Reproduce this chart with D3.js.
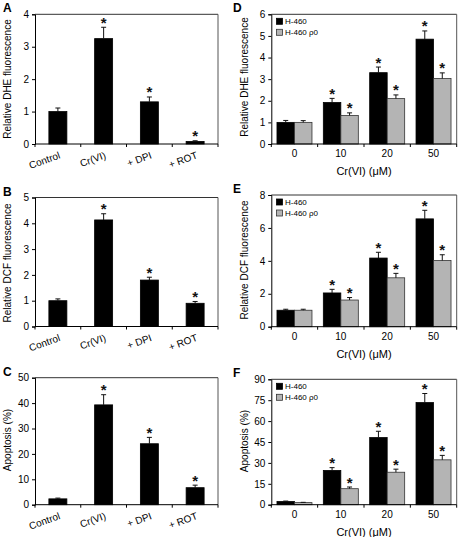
<!DOCTYPE html>
<html><head><meta charset="utf-8">
<script src="https://cdn.jsdelivr.net/npm/d3@7"></script>
<style>
body{margin:0;background:#fff;}
svg{display:block;font-family:"Liberation Sans",Arial,sans-serif;}
</style></head><body>
<svg id="c" width="459" height="537"></svg>
<script>
// ---- data ----
const treatCats = ["Control", "Cr(VI)", "+ DPI", "+ ROT"];
const doseCats = ["0", "10", "20", "50"];
const seriesNames = ["H-460", "H-460 ρ0"];

const dheTreat = [1.0, 3.25, 1.3, 0.08];
const dheTreatErr = [0.11, 0.35, 0.15, 0.02];
const dcfTreat = [1.0, 4.13, 1.8, 0.9];
const dcfTreatErr = [0.07, 0.24, 0.11, 0.07];
const apoTreat = [2.3, 39.3, 24.0, 6.7];
const apoTreatErr = [0.3, 4.0, 2.5, 1.0];

const dheH460 = [1.0, 1.92, 3.3, 4.85];
const dheH460Err = [0.09, 0.19, 0.26, 0.38];
const dheRho0 = [1.0, 1.32, 2.1, 3.03];
const dheRho0Err = [0.08, 0.12, 0.17, 0.26];
const dcfH460 = [1.0, 2.05, 4.17, 6.55];
const dcfH460Err = [0.06, 0.22, 0.35, 0.52];
const dcfRho0 = [1.0, 1.62, 2.97, 4.02];
const dcfRho0Err = [0.06, 0.15, 0.27, 0.35];
const apoH460 = [2.3, 24.6, 48.2, 73.3];
const apoH460Err = [0.3, 2.0, 4.5, 6.5];
const apoRho0 = [1.5, 11.5, 23.3, 32.2];
const apoRho0Err = [0.2, 1.2, 2.2, 3.2];

// significance markers (1 = asterisk)
const sigTreat = [0, 1, 1, 1];
const sigDose = [0, 1, 1, 1];

const ticksDHEa = [0, 1, 2, 3, 4];
const ticksDCFb = [0, 1, 2, 3, 4, 5];
const ticksApoC = [0, 10, 20, 30, 40, 50];
const ticksDHEd = [0, 1, 2, 3, 4, 5, 6];
const ticksDCFe = [0, 2, 4, 6, 8];
const ticksApoF = [0, 15, 30, 45, 60, 75, 90];

const xTitleDose = "Cr(VI) (μM)";

// ---- layout ----
const svg = d3.select("#c");
const colors = ["#000000", "#b4b4b4"];

const panels = [
  {letter:"A", x0:35, x1:218, y0:14.3, y1:144, ticks:ticksDHEa, ylab:"Relative DHE fluorescence", ylabY:79, cats:treatCats, series:[[dheTreat, dheTreatErr]], sig:sigTreat, rot:true},
  {letter:"B", x0:35, x1:218, y0:197.5, y1:326.5, ticks:ticksDCFb, ylab:"Relative DCF fluorescence", ylabY:263, cats:treatCats, series:[[dcfTreat, dcfTreatErr]], sig:sigTreat, rot:true},
  {letter:"C", x0:35, x1:218, y0:377.7, y1:504.7, ticks:ticksApoC, ylab:"Apoptosis (%)", ylabY:440, cats:treatCats, series:[[apoTreat, apoTreatErr]], sig:sigTreat, rot:true},
  {letter:"D", x0:271.3, x1:456.7, y0:14.3, y1:144, ticks:ticksDHEd, ylab:"Relative DHE fluorescence", ylabY:77, cats:doseCats, series:[[dheH460, dheH460Err],[dheRho0, dheRho0Err]], sig:sigDose, rot:false},
  {letter:"E", x0:271.3, x1:456.7, y0:195, y1:326.7, ticks:ticksDCFe, ylab:"Relative DCF fluorescence", ylabY:260, cats:doseCats, series:[[dcfH460, dcfH460Err],[dcfRho0, dcfRho0Err]], sig:sigDose, rot:false},
  {letter:"F", x0:271.3, x1:456.7, y0:379.3, y1:504.7, ticks:ticksApoF, ylab:"Apoptosis (%)", ylabY:441, cats:doseCats, series:[[apoH460, apoH460Err],[apoRho0, apoRho0Err]], sig:sigDose, rot:false}
];

panels.forEach(p => {
  const g = svg.append("g");
  const x = d3.scaleBand().domain(p.cats).range([p.x0, p.x1]);
  const y = d3.scaleLinear().domain([p.ticks[0], p.ticks[p.ticks.length-1]]).range([p.y1, p.y0]);

  // frame top/right
  g.append("line").attr("x1", p.x0).attr("x2", p.x1).attr("y1", p.y0).attr("y2", p.y0).attr("stroke", "#333");
  g.append("line").attr("x1", p.x1).attr("x2", p.x1).attr("y1", p.y0).attr("y2", p.y1).attr("stroke", "#555");

  // bars
  const ns = p.series.length;
  const groupW = ns === 1 ? 18 : 35;
  const bw = groupW / ns;
  p.series.forEach((s, si) => {
    const [vals, errs] = s;
    p.cats.forEach((c, i) => {
      const cx = x(c) + x.bandwidth()/2;
      const bx = cx - groupW/2 + si*bw;
      const top = y(vals[i]);
      const eTop = y(vals[i] + errs[i]);
      const mid = bx + bw/2;
      g.append("rect").attr("x", bx).attr("y", top).attr("width", bw).attr("height", y(0) - top)
        .attr("fill", colors[si]).attr("stroke", si === 0 ? "#000" : "#333").attr("stroke-width", 0.8);
      g.append("line").attr("x1", mid).attr("x2", mid).attr("y1", top).attr("y2", eTop).attr("stroke", "#111").attr("stroke-width", 1);
      g.append("line").attr("x1", mid - 2.5).attr("x2", mid + 2.5).attr("y1", eTop).attr("y2", eTop).attr("stroke", "#111").attr("stroke-width", 1);
      if (p.sig[i]) {
        g.append("text").attr("x", mid).attr("y", eTop + 0.5).attr("text-anchor", "middle")
          .attr("font-size", 15).attr("font-weight", "bold").attr("fill", "#111").text("*");
      }
    });
  });

  // y axis
  const ya = d3.axisLeft(y).tickValues(p.ticks).tickSize(3).tickPadding(3).tickFormat(d3.format("d"));
  const yg = g.append("g").attr("transform", `translate(${p.x0},0)`).call(ya);
  yg.select(".domain").attr("stroke", "#000");
  yg.selectAll("text").attr("font-size", 10).attr("font-family", '"Liberation Sans",Arial,sans-serif').attr("fill", "#000");

  // x axis: baseline + boundary ticks
  g.append("line").attr("x1", p.x0).attr("x2", p.x1).attr("y1", p.y1).attr("y2", p.y1).attr("stroke", "#000");
  const bounds = p.cats.map(c => x(c)).concat([p.x1]);
  bounds.forEach(bx => {
    g.append("line").attr("x1", bx).attr("x2", bx).attr("y1", p.y1).attr("y2", p.y1 + 3).attr("stroke", "#000");
  });
  p.cats.forEach(c => {
    const cx = x(c) + x.bandwidth()/2;
    if (p.rot) {
      g.append("text").attr("text-anchor", "end").attr("font-size", 10)
        .attr("transform", `translate(${cx + 3},${p.y1 + 14}) rotate(-20)`).text(c);
    } else {
      g.append("text").attr("x", cx).attr("y", p.y1 + 13).attr("text-anchor", "middle").attr("font-size", 10).text(c);
    }
  });
  if (!p.rot) {
    g.append("text").attr("x", (p.x0 + p.x1)/2).attr("y", p.y1 + 31).attr("text-anchor", "middle").attr("font-size", 11).text(xTitleDose);
    // legend
    seriesNames.forEach((nm, si) => {
      const ly = p.y0 + 4 + si * 11;
      g.append("rect").attr("x", 276.5).attr("y", ly).attr("width", 6).attr("height", 6)
        .attr("fill", colors[si]).attr("stroke", si === 0 ? "#000" : "#333").attr("stroke-width", 0.8);
      g.append("text").attr("x", 285).attr("y", ly + 6).attr("font-size", 8).text(nm);
    });
  }

  // y label
  const ylx = p.x0 < 100 ? 7 : 244;
  g.append("text").attr("transform", `translate(${ylx + 3.5},${p.ylabY}) rotate(-90)`).attr("text-anchor", "middle")
    .attr("font-size", 10).text(p.ylab);

  // panel letter
  g.append("text").attr("x", p.x0 < 100 ? 3 : 233).attr("y", p.y0 - 2).attr("font-size", 12).attr("font-weight", "bold").text(p.letter);
});
</script>
</body></html>
